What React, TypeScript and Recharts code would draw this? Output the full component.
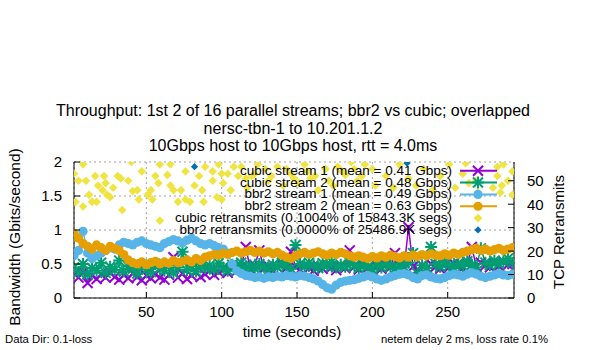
import { ComposedChart, Line, Scatter, XAxis, YAxis, CartesianGrid } from 'recharts'

const FONT = '"Liberation Sans", Arial, Helvetica, sans-serif'

const COLORS = {
  cubic1: '#9400D3',   // purple
  cubic2: '#009E73',   // green
  bbr1: '#56B4E9',     // light blue
  bbr2: '#E69F00',     // orange
  cubicRetr: '#F0E442', // yellow
  bbrRetr: '#0072B2'   // dark blue
}

// time (seconds)
const TIME = [
  2, 5, 8, 11, 14, 17, 20, 23, 26, 29,
  32, 35, 38, 41, 44, 47, 50, 53, 56, 59,
  62, 65, 68, 71, 74, 77, 80, 83, 86, 89,
  92, 95, 98, 101, 104, 107, 110, 113, 116, 119,
  122, 125, 128, 131, 134, 137, 140, 143, 146, 149,
  152, 155, 158, 161, 164, 167, 170, 173, 176, 179,
  182, 185, 188, 191, 194, 197, 200, 203, 206, 209,
  212, 215, 218, 221, 224, 227, 230, 233, 236, 239,
  242, 245, 248, 251, 254, 257, 260, 263, 266, 269,
  272, 275, 278, 281, 284, 287, 290, 293
]

// Gbps
const CUBIC_1 = [
  0.36, 0.30, 0.38, 0.22, 0.33, 0.28, 0.35, 0.30, 0.37, 0.31,
  0.27, 0.34, 0.29, 0.36, 0.31, 0.26, 0.33, 0.29, 0.35, 0.30,
  0.27, 0.34, 0.60, 0.30, 0.36, 0.28, 0.33, 0.38, 0.31, 0.35,
  0.40, 0.34, 0.38, 0.42, 0.37, 0.44, 0.40, 0.46, 0.75, 0.42,
  0.48, 0.70, 0.43, 0.47, 0.41, 0.45, 0.49, 0.44, 0.68, 0.46,
  0.42, 0.48, 0.44, 0.40, 0.47, 0.43, 0.49, 0.45, 0.41, 0.47,
  0.44, 0.70, 0.46, 0.42, 0.48, 0.44, 0.40, 0.46, 0.43, 0.49,
  0.45, 0.66, 0.47, 0.43, 1.04, 0.46, 0.42, 0.48, 0.44, 0.50,
  0.46, 0.43, 0.49, 0.45, 0.51, 0.47, 0.44, 0.50, 0.75, 0.46,
  0.52, 0.48, 0.45, 0.51, 0.47, 0.53, 0.49, 0.50
]

const CUBIC_2 = [
  0.45, 0.38, 0.50, 0.35, 0.44, 0.40, 0.52, 0.37, 0.46, 0.41,
  0.55, 0.39, 0.47, 0.43, 0.36, 0.49, 0.42, 0.38, 0.50, 0.44,
  0.40, 0.48, 0.37, 0.45, 0.68, 0.41, 0.47, 0.39, 0.50, 0.44,
  0.48, 0.42, 0.51, 0.45, 0.40, 0.49, 0.46, 0.52, 0.44, 0.48,
  0.43, 0.50, 0.46, 0.41, 0.49, 0.45, 0.52, 0.47, 0.43, 0.78,
  0.50, 0.46, 0.52, 0.48, 0.44, 0.51, 0.47, 0.53, 0.45, 0.49,
  0.46, 0.52, 0.48, 0.44, 0.50, 0.46, 0.42, 0.49, 0.45, 0.51,
  0.47, 0.43, 0.50, 0.46, 0.52, 0.66, 0.36, 0.48, 0.44, 0.75,
  0.50, 0.46, 0.53, 0.48, 0.44, 0.51, 0.47, 0.54, 0.49, 0.45,
  0.73, 0.52, 0.48, 0.55, 0.50, 0.54, 0.58, 0.52
]

const BBR2_1 = [
  0.62, 0.70, 0.98, 0.66, 0.58, 0.62, 0.66, 0.70, 0.74, 0.72,
  0.78, 0.82, 0.80, 0.78, 0.82, 0.84, 0.80, 0.78, 0.76, 0.74,
  0.80, 0.83, 0.86, 0.84, 0.81, 0.85, 0.88, 0.84, 0.80, 0.78,
  0.80, 0.77, 0.74, 0.72, 0.66, 0.50, 0.40, 0.36, 0.33, 0.32,
  0.30, 0.31, 0.29, 0.31, 0.30, 0.32, 0.31, 0.33, 0.32, 0.31,
  0.33, 0.32, 0.30, 0.28, 0.25, 0.20, 0.15, 0.13, 0.19, 0.23,
  0.25, 0.26, 0.27, 0.29, 0.31, 0.33, 0.31, 0.28, 0.26, 0.28,
  0.31, 0.33, 0.35, 0.36, 0.34, 0.30, 0.28, 0.33, 0.34, 0.31,
  0.29, 0.28, 0.30, 0.33, 0.35, 0.34, 0.32, 0.35, 0.37, 0.35,
  0.32, 0.30, 0.32, 0.34, 0.36, 0.34, 0.33, 0.35
]

const BBR2_2 = [
  0.95, 0.88, 0.80, 0.76, 0.72, 0.78, 0.74, 0.70, 0.76, 0.73,
  0.70, 0.64, 0.56, 0.52, 0.50, 0.53, 0.49, 0.52, 0.54, 0.50,
  0.53, 0.51, 0.55, 0.52, 0.54, 0.56, 0.53, 0.58, 0.55, 0.60,
  0.62, 0.64, 0.63, 0.66, 0.64, 0.67, 0.69, 0.66, 0.68, 0.70,
  0.67, 0.69, 0.66, 0.68, 0.65, 0.67, 0.63, 0.60, 0.58, 0.62,
  0.65, 0.67, 0.64, 0.66, 0.68, 0.65, 0.63, 0.66, 0.64, 0.67,
  0.65, 0.62, 0.60, 0.62, 0.60, 0.58, 0.61, 0.59, 0.62, 0.60,
  0.63, 0.61, 0.59, 0.62, 0.60, 0.63, 0.61, 0.64, 0.62, 0.65,
  0.63, 0.62, 0.65, 0.63, 0.66, 0.64, 0.67, 0.69, 0.71, 0.73,
  0.70, 0.72, 0.69, 0.71, 0.73, 0.70, 0.72, 0.74
]

// retransmits (right axis)
const CUBIC_RETR_T = [
  2, 3, 5, 8, 8, 10, 12, 14, 16, 17, 18, 21, 22, 23, 24, 26, 28, 31, 33, 34,
  38, 40, 41, 44, 45, 47, 51, 53, 54, 56, 58, 59, 59, 64, 66, 66, 68, 71, 73, 76,
  76, 79, 82, 85, 87, 88, 89, 94, 94, 97, 98, 100, 100, 101, 104, 106, 108, 111, 113, 116,
  117, 120, 122, 124, 129, 131, 133, 137, 141, 143, 146, 148, 151, 155, 157, 159, 162, 164, 169, 171,
  174, 177, 180, 182, 186, 188, 190, 193, 195, 200, 202, 209, 214, 218, 224, 229, 234, 240, 245, 251,
  255, 260, 262, 264, 269, 270, 280, 283, 283, 285, 286, 287, 290, 293, 293
]
const CUBIC_RETR_V = [
  53, 41, 50, 57, 39, 50, 44, 41, 52, 41, 48, 46, 52, 49, 44, 43, 47, 52, 51, 37.5,
  50, 58, 45.6, 46, 42, 54, 44, 46, 42, 52, 49, 57, 33, 52.5, 48, 57, 46, 41, 46, 42,
  54, 41, 48, 52, 46, 41, 56, 54, 50, 43, 57, 53, 42, 49, 53, 46, 56, 52, 56, 51,
  47, 52, 53, 57, 55, 50, 52, 56, 48, 55, 53, 51, 49, 57, 54, 51, 52, 46, 55, 50,
  48, 56, 54, 52.5, 58, 55, 50, 52, 57, 55, 48, 52, 47, 57, 51, 48, 55, 46, 52, 57,
  47, 53, 57.5, 49, 50, 45, 47, 52, 56, 45, 48, 57, 50, 44, 54
]
const BBR_RETR_T = [82, 223]
const BBR_RETR_V = [56, 57.5]

const X_TICKS = [50, 100, 150, 200, 250]
const Y_TICKS = [0, 0.5, 1, 1.5, 2]
const Y2_TICKS = [0, 10, 20, 30, 40, 50]

const TITLE = [
  'Throughput: 1st 2 of 16 parallel streams; bbr2 vs cubic; overlapped',
  'nersc-tbn-1 to 10.201.1.2',
  '10Gbps host to 10Gbps host, rtt = 4.0ms'
]

const LEGEND = [
  { label: 'cubic stream 1 (mean = 0.41 Gbps)', color: COLORS.cubic1, kind: 'cross' },
  { label: 'cubic stream 2 (mean = 0.48 Gbps)', color: COLORS.cubic2, kind: 'star' },
  { label: 'bbr2 stream 1 (mean = 0.49 Gbps)', color: COLORS.bbr1, kind: 'circle' },
  { label: 'bbr2 stream 2 (mean = 0.63 Gbps)', color: COLORS.bbr2, kind: 'circle' },
  { label: 'cubic retransmits (0.1004% of 15843.3K segs)', color: COLORS.cubicRetr, kind: 'diamond' },
  { label: 'bbr2 retransmits (0.0000% of 25486.9K segs)', color: COLORS.bbrRetr, kind: 'smalldiamond' }
]

const rows = TIME.map((t, i) => ({
  t,
  c1: CUBIC_1[i],
  c2: CUBIC_2[i],
  b1: BBR2_1[i],
  b2: BBR2_2[i]
}))
const cubicRetr = CUBIC_RETR_T.map((t, i) => ({ t, r: CUBIC_RETR_V[i] }))
const bbrRetr = BBR_RETR_T.map((t, i) => ({ t, r: BBR_RETR_V[i] }))

function marker(kind: string, cx: number, cy: number, color: string, key?: any) {
  if (kind === 'cross') {
    return <path key={key} d={`M${cx - 5},${cy - 5}L${cx + 5},${cy + 5}M${cx - 5},${cy + 5}L${cx + 5},${cy - 5}`} stroke={color} strokeWidth={2} fill="none" />
  }
  if (kind === 'star') {
    return <path key={key} d={`M${cx - 5},${cy - 5}L${cx + 5},${cy + 5}M${cx - 5},${cy + 5}L${cx + 5},${cy - 5}M${cx - 6},${cy}L${cx + 6},${cy}M${cx},${cy - 6}L${cx},${cy + 6}`} stroke={color} strokeWidth={2} fill="none" />
  }
  if (kind === 'circle') {
    return <circle key={key} cx={cx} cy={cy} r={4.6} fill={color} />
  }
  const s = kind === 'diamond' ? 4.3 : 3.6
  return <path key={key} d={`M${cx},${cy - s}L${cx + s},${cy}L${cx},${cy + s}L${cx - s},${cy}Z`} fill={color} />
}

const dotOf = (kind: string, color: string) => (props: any) => {
  const { cx, cy, index } = props
  if (cx == null || cy == null) return <g key={`${kind}-${color}-${index}`} />
  return marker(kind, cx, cy, color, `${kind}-${color}-${index}`)
}

const shapeOf = (kind: string, color: string) => (props: any) => {
  const { cx, cy } = props
  if (cx == null || cy == null) return <g />
  return marker(kind, cx, cy, color)
}

const tickText = { fontSize: 15, fontFamily: FONT, fill: '#000' }

const LeftTick = ({ x, y, payload }: any) => (
  <g>
    <line x1={x + 12} x2={x + 18} y1={y} y2={y} stroke="#000" />
    <text x={x} y={y} dy="0.36em" textAnchor="end" {...tickText}>{payload.value}</text>
  </g>
)

const RightTick = ({ x, y, payload }: any) => (
  <g>
    <line x1={x - 19} x2={x - 13} y1={y} y2={y} stroke="#000" />
    <text x={x} y={y} dy="0.36em" textAnchor="start" {...tickText}>{payload.value}</text>
  </g>
)

const BottomTick = ({ x, y, payload }: any) => (
  <g>
    <line x1={x} x2={x} y1={y - 14} y2={y - 20} stroke="#000" />
    <text x={x} y={y} dy="0.36em" textAnchor="middle" {...tickText}>{payload.value}</text>
  </g>
)

const ROW_GAP = 11.85

export default function App() {
  return (
    <div style={{ position: 'absolute', left: 0, top: 0, width: 600, height: 350, background: '#fff', fontFamily: FONT, color: '#000' }}>
      <ComposedChart width={600} height={350} data={rows} margin={{ top: 162, right: 6, bottom: 22, left: 10 }}>
        <CartesianGrid yAxisId="left" stroke="#a0a0a0" strokeDasharray="2 3" />
        <XAxis dataKey="t" type="number" domain={[2, 294]} ticks={X_TICKS} allowDataOverflow height={30}
          tickSize={0} tickMargin={14} tick={<BottomTick />} axisLine={{ stroke: '#000' }} />
        <XAxis xAxisId="top" orientation="top" type="number" domain={[2, 294]} height={0}
          tick={false} tickLine={false} axisLine={{ stroke: '#000' }} />
        <YAxis yAxisId="left" type="number" domain={[0, 2]} ticks={Y_TICKS} allowDataOverflow width={64}
          tickSize={0} tickMargin={12} tick={<LeftTick />} axisLine={{ stroke: '#000' }} />
        <YAxis yAxisId="right" orientation="right" dataKey="r" type="number" domain={[0, 58]} ticks={Y2_TICKS}
          allowDataOverflow width={80} tickSize={0} tickMargin={13} tick={<RightTick />} axisLine={{ stroke: '#000' }} />

        <Line yAxisId="left" dataKey="c1" stroke={COLORS.cubic1} strokeWidth={1.5} dot={dotOf('cross', COLORS.cubic1)}
          activeDot={false} isAnimationActive={false} />
        <Line yAxisId="left" dataKey="c2" stroke={COLORS.cubic2} strokeWidth={1.5} dot={dotOf('star', COLORS.cubic2)}
          activeDot={false} isAnimationActive={false} />
        <Line yAxisId="left" dataKey="b1" stroke={COLORS.bbr1} strokeWidth={1.5} dot={dotOf('circle', COLORS.bbr1)}
          activeDot={false} isAnimationActive={false} />
        <Line yAxisId="left" dataKey="b2" stroke={COLORS.bbr2} strokeWidth={1.5} dot={dotOf('circle', COLORS.bbr2)}
          activeDot={false} isAnimationActive={false} />
        <Scatter yAxisId="right" data={cubicRetr} dataKey="r" shape={shapeOf('diamond', COLORS.cubicRetr)}
          isAnimationActive={false} />
        <Scatter yAxisId="right" data={bbrRetr} dataKey="r" shape={shapeOf('smalldiamond', COLORS.bbrRetr)}
          isAnimationActive={false} />
      </ComposedChart>

      {/* titles */}
      <div style={{ position: 'absolute', left: 0, top: 102, width: 586, textAlign: 'center', fontSize: 16, lineHeight: '17.5px', whiteSpace: 'nowrap' }}>
        {TITLE.map(line => <div key={line}>{line}</div>)}
      </div>

      {/* axis labels */}
      <div style={{ position: 'absolute', left: 15, top: 237, transform: 'translate(-50%, -50%) rotate(-90deg)', fontSize: 15.5, whiteSpace: 'nowrap', lineHeight: 1 }}>
        Bandwidth (Gbits/second)
      </div>
      <div style={{ position: 'absolute', left: 558, top: 232, transform: 'translate(-50%, -50%) rotate(-90deg)', fontSize: 15, whiteSpace: 'nowrap', lineHeight: 1 }}>
        TCP Retransmits
      </div>
      <div style={{ position: 'absolute', left: 292, top: 331, transform: 'translate(-50%, -50%)', fontSize: 15, whiteSpace: 'nowrap', lineHeight: 1 }}>
        time (seconds)
      </div>

      {/* footer */}
      <div style={{ position: 'absolute', left: 5, top: 333, fontSize: 11.3, lineHeight: '12px', whiteSpace: 'nowrap' }}>
        Data Dir: 0.1-loss
      </div>
      <div style={{ position: 'absolute', left: 381, top: 333, fontSize: 11.3, lineHeight: '12px', whiteSpace: 'nowrap' }}>
        netem delay 2 ms, loss rate 0.1%
      </div>

      {/* key */}
      {LEGEND.map((item, i) => (
        <div key={item.label} style={{ position: 'absolute', right: 148, top: 170.7 + ROW_GAP * i - ROW_GAP / 2, fontSize: 13.5, lineHeight: `${ROW_GAP}px`, whiteSpace: 'nowrap' }}>
          {item.label}
        </div>
      ))}
      <svg width={600} height={350} style={{ position: 'absolute', left: 0, top: 0, pointerEvents: 'none' }}>
        {LEGEND.map((item, i) => {
          const cy = 170.7 + ROW_GAP * i
          const hasLine = item.kind !== 'diamond' && item.kind !== 'smalldiamond'
          return (
            <g key={item.label}>
              {hasLine && <line x1={460} x2={497} y1={cy} y2={cy} stroke={item.color} strokeWidth={2} />}
              {marker(item.kind, 478, cy, item.color)}
            </g>
          )
        })}
      </svg>
    </div>
  )
}
